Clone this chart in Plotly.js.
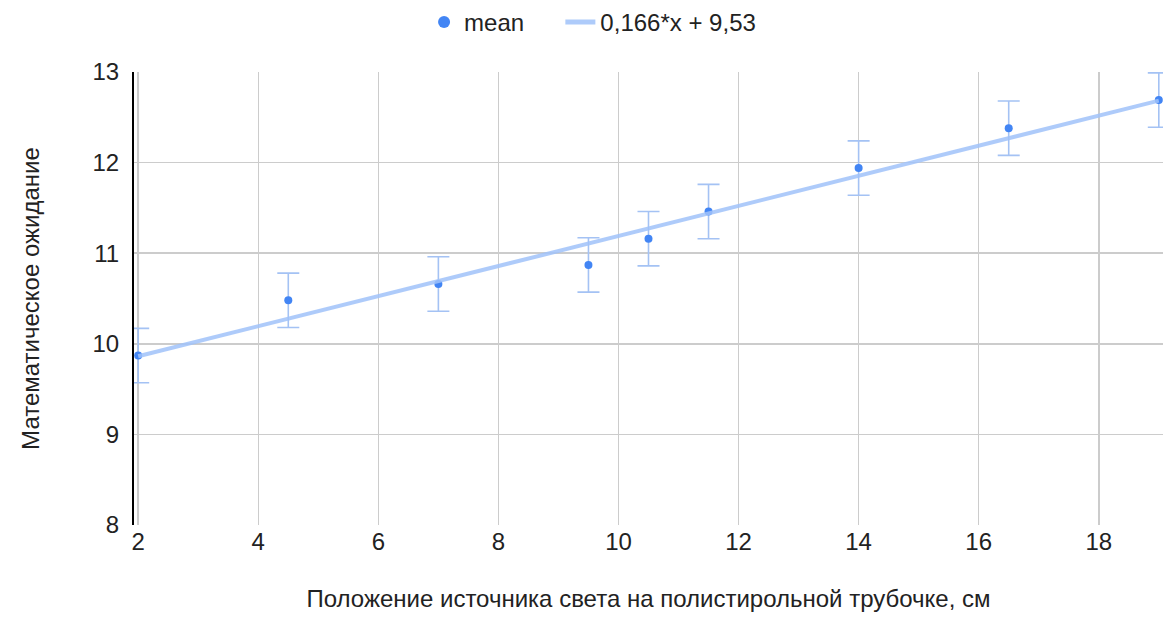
<!DOCTYPE html>
<html>
<head>
<meta charset="utf-8">
<script src="https://cdn.plot.ly/plotly-3.0.1.min.js"></script>
<style>html,body{margin:0;padding:0;background:#fff;}#chart{width:1165px;height:623px;}</style>
</head>
<body>
<div id="chart"></div>
<script>
const positions = [2, 4.5, 7, 9.5, 10.5, 11.5, 14, 16.5, 19];
const means = [9.87, 10.48, 10.66, 10.87, 11.16, 11.46, 11.94, 12.38, 12.69];
const errors = [0.3, 0.3, 0.3, 0.3, 0.3, 0.3, 0.3, 0.3, 0.3];
const trendSlope = 0.166;
const trendIntercept = 9.53;
const trendX = [2, 19];
const trendName = "0,166*x + 9,53";
const xTicks = [2, 4, 6, 8, 10, 12, 14, 16, 18];
const yTicks = [8, 9, 10, 11, 12, 13];

const trendY = trendX.map(x => trendSlope * x + trendIntercept);

const FONT = '"Liberation Sans", Arial, sans-serif';
const FS = 24;
const data = [
  {
    x: positions, y: means, type: 'scatter', mode: 'markers', name: 'mean', legend: 'legend',
    marker: {color: '#4285f4', size: 8},
    error_y: {type: 'data', array: errors, visible: true, color: '#a4c2f4', thickness: 1.6, width: 11}
  },
  {
    x: trendX, y: trendY, type: 'scatter', mode: 'lines', name: trendName, legend: 'legend2',
    line: {color: 'rgba(160,194,249,0.85)', width: 4}, hoverinfo: 'skip'
  }
];

const legendBase = {orientation: 'h', y: 1.0, yanchor: 'top', yref: 'container', xref: 'container', xanchor: 'left',
                    font: {family: FONT, size: FS, color: '#222'}, itemsizing: 'constant', bgcolor: 'rgba(0,0,0,0)'};

const layout = {
  width: 1165, height: 623,
  margin: {l: 134, r: 2, t: 72, b: 98},
  paper_bgcolor: '#fff', plot_bgcolor: '#fff',
  font: {family: FONT, size: FS, color: '#222'},
  showlegend: true,
  legend: Object.assign({}, legendBase, {x: 0.364}),
  legend2: Object.assign({}, legendBase, {x: 0.481}),
  xaxis: {
    range: [1.93, 19.07], tickvals: xTicks, ticktext: xTicks.map(String),
    showgrid: true, gridcolor: '#cccccc', gridwidth: 1.5, zeroline: false, showline: false,
    ticks: '', tickfont: {family: FONT, size: FS, color: '#222'},
    title: {text: 'Положение источника света на полистирольной трубочке, см', font: {family: FONT, size: FS, color: '#222'}, standoff: 36}
  },
  yaxis: {
    range: [8, 13], tickvals: yTicks, ticktext: yTicks.map(String),
    showgrid: true, gridcolor: '#cccccc', gridwidth: 1.5, zeroline: false,
    showline: true, linecolor: '#000', linewidth: 2,
    ticks: '', tickfont: {family: FONT, size: FS, color: '#222'}, ticklabelstandoff: 8,
    title: {text: 'Математическое ожидание', font: {family: FONT, size: FS, color: '#222'}, standoff: 46}
  }
};

Plotly.newPlot('chart', data, layout, {displayModeBar: false, staticPlot: true});
</script>
</body>
</html>
